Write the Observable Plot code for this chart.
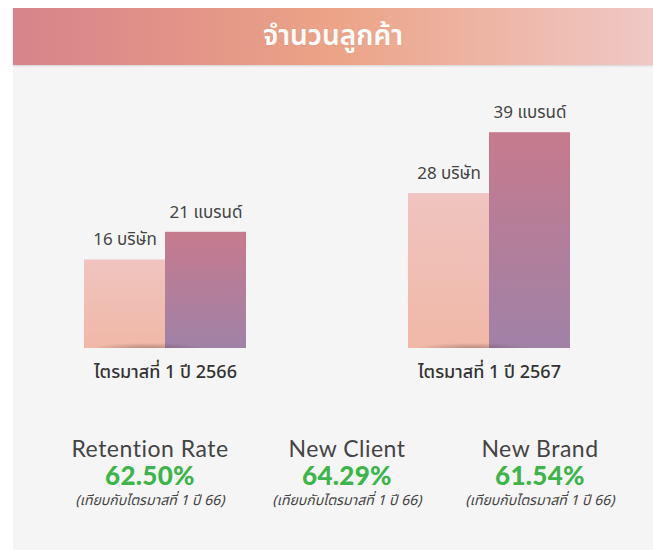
<!DOCTYPE html>
<html>
<head>
<meta charset="utf-8">
<script src="https://cdn.jsdelivr.net/npm/d3@7"></script>
<script src="https://cdn.jsdelivr.net/npm/@observablehq/plot@0.6"></script>
<style>
  body { margin: 0; background: #fff; font-family: "Noto Sans Thai", "Open Sans", "Noto Sans", sans-serif; }
  #panel { position: absolute; left: 13px; top: 8px; width: 640px; height: 542px; background: #f5f5f5; }
  #banner { height: 57px; background: linear-gradient(to right, #d6848b 0%, #eca386 50%, #efc8c6 100%);
            color: #fff; font-size: 28px; font-weight: 600; text-align: center; line-height: 57px;
            box-shadow: 0 1px 2px rgba(0,0,0,0.15); }
  #chart { position: absolute; left: 0; top: 66px; }
  .kpi { position: absolute; top: 435px; width: 220px; text-align: center; color: #444; font-family: Lato, "Noto Sans Thai", sans-serif; }
  .kpi .lbl { font-size: 23px; line-height: 26px; height: 26px; letter-spacing: 0.5px; }
  .kpi .val { font-size: 26px; line-height: 28px; height: 28px; font-weight: 900; color: #3db54a; letter-spacing: 0.3px; }
  .kpi .note { font-size: 14px; line-height: 24px; height: 24px; font-style: italic; font-family: "Noto Sans Thai", "Open Sans", sans-serif; }
</style>
</head>
<body>
<div id="panel"><div id="banner"></div></div>
<div id="chart"></div>
<div id="kpis"></div>
<script>
const title = "จำนวนลูกค้า";
const quarters = ["ไตรมาสที่ 1 ปี 2566", "ไตรมาสที่ 1 ปี 2567"];
const seriesKeys = ["company", "brand"];
const seriesUnits = ["บริษัท", "แบรนด์"];
const companies = [16, 28];
const brands = [21, 39];

const kpiLabels = ["Retention Rate", "New Client", "New Brand"];
const kpiValues = ["62.50%", "64.29%", "61.54%"];
const kpiNotes = ["(เทียบกับไตรมาสที่ 1 ปี 66)", "(เทียบกับไตรมาสที่ 1 ปี 66)", "(เทียบกับไตรมาสที่ 1 ปี 66)"];
const kpiCenters = [150, 347, 540];

document.getElementById("banner").textContent = title;

const data = quarters.flatMap((q, i) => [
  {q, s: seriesKeys[0], v: companies[i], label: `${companies[i]} ${seriesUnits[0]}`},
  {q, s: seriesKeys[1], v: brands[i], label: `${brands[i]} ${seriesUnits[1]}`}
]);

const plot = Plot.plot({
  width: 653,
  height: 320,
  marginLeft: 0,
  marginRight: 0,
  marginTop: 33,
  marginBottom: 38,
  style: {background: "transparent", fontFamily: "'Noto Sans Thai', 'Open Sans', 'Noto Sans', sans-serif", fontSize: "18px", color: "#333", overflow: "visible"},
  fx: {domain: quarters, paddingInner: 0.5, paddingOuter: 0.256, label: null, axis: "bottom", tickSize: 0, tickPadding: 17},
  x: {domain: seriesKeys, padding: 0, axis: null},
  y: {domain: [0, 45], axis: null},
  marks: [
    Plot.barY(data.filter(d => d.s === "company"), {fx: "q", x: "s", y: "v", fill: "url(#gCompany)"}),
    Plot.barY(data.filter(d => d.s === "brand"), {fx: "q", x: "s", y: "v", fill: "url(#gBrand)"}),
    Plot.rectY(quarters, {fx: d => d, y1: 0, y2: 2.6, fill: "url(#gShadow)"}),
    Plot.text(data, {fx: "q", x: "s", y: "v", text: "label", dy: -20, fontSize: 17, fill: "#444"})
  ]
});

const svg = d3.select(plot);
const defs = svg.insert("defs", ":first-child");
const g1 = defs.append("linearGradient").attr("id", "gCompany").attr("x1", 0).attr("y1", 0).attr("x2", 0).attr("y2", 1);
g1.append("stop").attr("offset", "0%").attr("stop-color", "#f0c4c0");
g1.append("stop").attr("offset", "100%").attr("stop-color", "#f0b8a7");
const g2 = defs.append("linearGradient").attr("id", "gBrand").attr("x1", 0).attr("y1", 0).attr("x2", 0).attr("y2", 1);
g2.append("stop").attr("offset", "0%").attr("stop-color", "#c67a8d");
g2.append("stop").attr("offset", "100%").attr("stop-color", "#a082a7");
const g3 = defs.append("radialGradient").attr("id", "gShadow").attr("cx", 0.4).attr("cy", 1).attr("r", 0.35);
g3.append("stop").attr("offset", "0%").attr("stop-color", "#5a3232").attr("stop-opacity", 0.35);
g3.append("stop").attr("offset", "100%").attr("stop-color", "#5a3232").attr("stop-opacity", 0);
svg.selectAll("g[aria-label^='fx-axis'] text").attr("font-weight", 500).attr("fill", "#333");

document.getElementById("chart").appendChild(plot);

const kpis = document.getElementById("kpis");
kpiLabels.forEach((l, i) => {
  const d = document.createElement("div");
  d.className = "kpi";
  d.style.left = (kpiCenters[i] - 110) + "px";
  d.innerHTML = `<div class="lbl">${l}</div><div class="val">${kpiValues[i]}</div><div class="note">${kpiNotes[i]}</div>`;
  kpis.appendChild(d);
});
</script>
</body>
</html>
